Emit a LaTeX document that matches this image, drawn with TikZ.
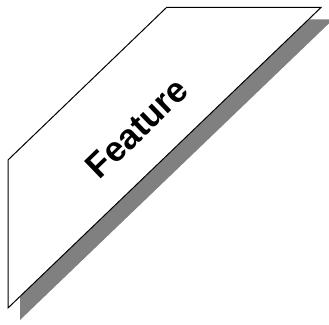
\documentclass[tikz,border=0pt]{standalone}
\usepackage{fontspec}
\setmainfont{Liberation Sans}
\usetikzlibrary{calc}
\definecolor{shadowgray}{RGB}{128,128,128}
\begin{document}
\begin{tikzpicture}[x=1pt,y=1pt,
banner/.style={draw=black,line width=1pt,fill=white,line join=miter},
shade/.style={fill=shadowgray,draw=none},
label/.style={font=\bfseries\fontsize{35}{38}\selectfont,rotate=44}]
\useasboundingbox (0,0) rectangle (329,324);
\coordinate (a) at (8,164);
\coordinate (b) at (166.5,316.5);
\coordinate (c) at (321,316.5);
\coordinate (d) at (8,16);
% shadow
\begin{scope}
\clip (0,0) rectangle (329,324);
\fill[shade] ($(a)+(12,-12)$) -- ($(b)+(12,-12)$) -- ($(c)+(12,-12)$) -- ($(d)+(12,-12)$) -- cycle;
\end{scope}
\draw[banner] (a) -- (b) -- (c) -- (d) -- cycle;
\node[label] (t) at (137,196) {Feature};
\end{tikzpicture}
\end{document}
